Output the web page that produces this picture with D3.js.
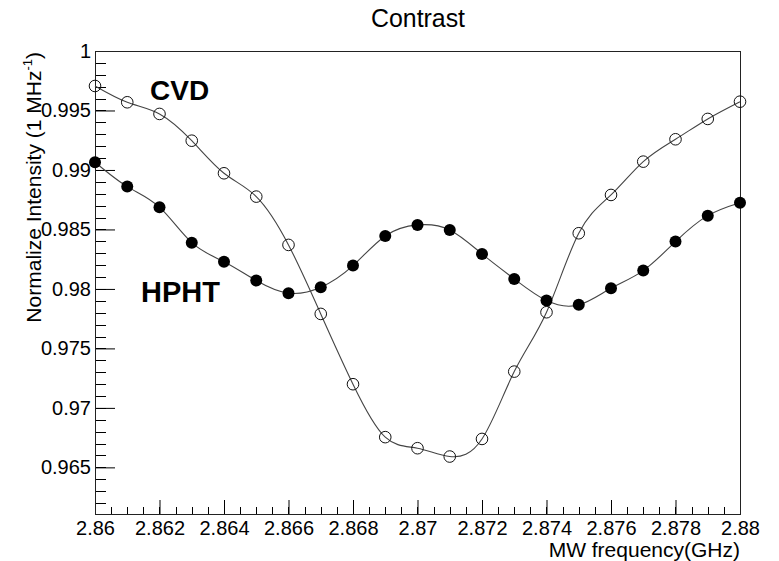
<!DOCTYPE html>
<html>
<head>
<meta charset="utf-8">
<script src="https://cdn.jsdelivr.net/npm/d3@7"></script>
<style>
  body { margin: 0; background: #fff; }
  text { font-family: "Liberation Sans", Arial, sans-serif; }
</style>
</head>
<body>
<svg width="779" height="561"></svg>
<script>
// frequency points (GHz)
var freq = [2.860, 2.861, 2.862, 2.863, 2.864, 2.865, 2.866, 2.867, 2.868, 2.869, 2.870,
            2.871, 2.872, 2.873, 2.874, 2.875, 2.876, 2.877, 2.878, 2.879, 2.880];

// CVD sample (open circles)
var cvd = [0.99706, 0.99569, 0.99471, 0.99246, 0.98972, 0.98776, 0.98370, 0.97790, 0.97199, 0.96754, 0.96661,
           0.96591, 0.96739, 0.97305, 0.97804, 0.98468, 0.98790, 0.99070, 0.99258, 0.99429, 0.99574];

// HPHT sample (filled circles)
var hpht = [0.99065, 0.98860, 0.98687, 0.98389, 0.98229, 0.98070, 0.97964, 0.98014, 0.98196, 0.98445, 0.98538,
            0.98496, 0.98294, 0.98084, 0.97902, 0.97866, 0.98006, 0.98154, 0.98398, 0.98616, 0.98725];

var xTicks = [2.86, 2.862, 2.864, 2.866, 2.868, 2.87, 2.872, 2.874, 2.876, 2.878, 2.88];
var yTicks = [0.965, 0.97, 0.975, 0.98, 0.985, 0.99, 0.995, 1];

var marginLeft = 95, marginTop = 51, w = 645, h = 463;

var svg = d3.select('svg');
var g = svg.append('g').attr('transform', 'translate(' + marginLeft + ',' + marginTop + ')');

var x = d3.scaleLinear().domain([2.86, 2.88]).range([0, w]);
var y = d3.scaleLinear().domain([0.96108, 1]).range([h, 0]);

// minor ticks
var xMinor = d3.range(0, 41).map(function(i){ return 2.86 + i * 0.0005; });
var yMinor = d3.range(0, 40).map(function(i){ return 0.961 + i * 0.001; });

g.selectAll('.xminor').data(xMinor).enter().append('line')
    .attr('x1', function(d){ return Math.round(x(d)) + 0.5; })
    .attr('x2', function(d){ return Math.round(x(d)) + 0.5; })
    .attr('y1', h).attr('y2', h - 7)
    .attr('stroke', '#000');

g.selectAll('.yminor').data(yMinor.filter(function(d){ return y(d) <= h; })).enter().append('line')
    .attr('y1', function(d){ return Math.round(y(d)) + 0.5; })
    .attr('y2', function(d){ return Math.round(y(d)) + 0.5; })
    .attr('x1', 0).attr('x2', 11)
    .attr('stroke', '#000');

// major ticks through d3 axes
var fmt = function(d){ return String(+d.toFixed(3)); };

var xAxis = g.append('g').attr('transform', 'translate(0,' + h + ')')
    .call(d3.axisBottom(x).tickValues(xTicks).tickSize(-14).tickFormat(fmt));
xAxis.select('.domain').remove();
xAxis.selectAll('text').attr('font-size', 20).attr('fill', '#000')
    .attr('dy', null).attr('y', 21);
xAxis.selectAll('line').attr('stroke', '#000');

var yAxis = g.append('g')
    .call(d3.axisLeft(y).tickValues(yTicks).tickSize(-20).tickFormat(fmt));
yAxis.select('.domain').remove();
yAxis.selectAll('text').attr('font-size', 20).attr('fill', '#000').attr('x', -4);
yAxis.selectAll('line').attr('stroke', '#000');

// frame
g.append('rect').attr('x', 0.5).attr('y', 0.5).attr('width', w).attr('height', h)
    .attr('fill', 'none').attr('stroke', '#222').attr('stroke-width', 1);

// curves
var line = d3.line()
    .x(function(d, i){ return x(freq[i]); })
    .y(function(d){ return y(d); })
    .curve(d3.curveNatural);

g.append('path').attr('d', line(cvd)).attr('fill', 'none')
    .attr('stroke', '#444').attr('stroke-width', 1.1);
g.append('path').attr('d', line(hpht)).attr('fill', 'none')
    .attr('stroke', '#444').attr('stroke-width', 1.1);

g.selectAll('.cvd').data(cvd).enter().append('circle')
    .attr('cx', function(d, i){ return x(freq[i]); })
    .attr('cy', function(d){ return y(d); })
    .attr('r', 5.8)
    .attr('fill', 'none').attr('stroke', '#111').attr('stroke-width', 1);

g.selectAll('.hpht').data(hpht).enter().append('circle')
    .attr('cx', function(d, i){ return x(freq[i]); })
    .attr('cy', function(d){ return y(d); })
    .attr('r', 6)
    .attr('fill', '#000');

// sample labels
svg.append('text').attr('x', 150).attr('y', 100)
    .attr('font-size', 28).attr('font-weight', 'bold').text('CVD');
svg.append('text').attr('x', 141).attr('y', 302)
    .attr('font-size', 29).attr('font-weight', 'bold').text('HPHT');

// titles
svg.append('text').attr('x', 418).attr('y', 27).attr('text-anchor', 'middle')
    .attr('font-size', 26).attr('textLength', 94).attr('lengthAdjust', 'spacingAndGlyphs')
    .text('Contrast');

svg.append('text').attr('x', 740).attr('y', 557).attr('text-anchor', 'end')
    .attr('font-size', 21).text('MW frequency(GHz)');

var yt = svg.append('text').attr('transform', 'translate(41,52) rotate(-90)')
    .attr('text-anchor', 'end').attr('font-size', 21);
yt.append('tspan').text('Normalize Intensity (1 MHz');
yt.append('tspan').attr('font-size', 13).attr('dy', -9).text('-1');
yt.append('tspan').attr('dy', 9).text(')');
</script>
</body>
</html>
